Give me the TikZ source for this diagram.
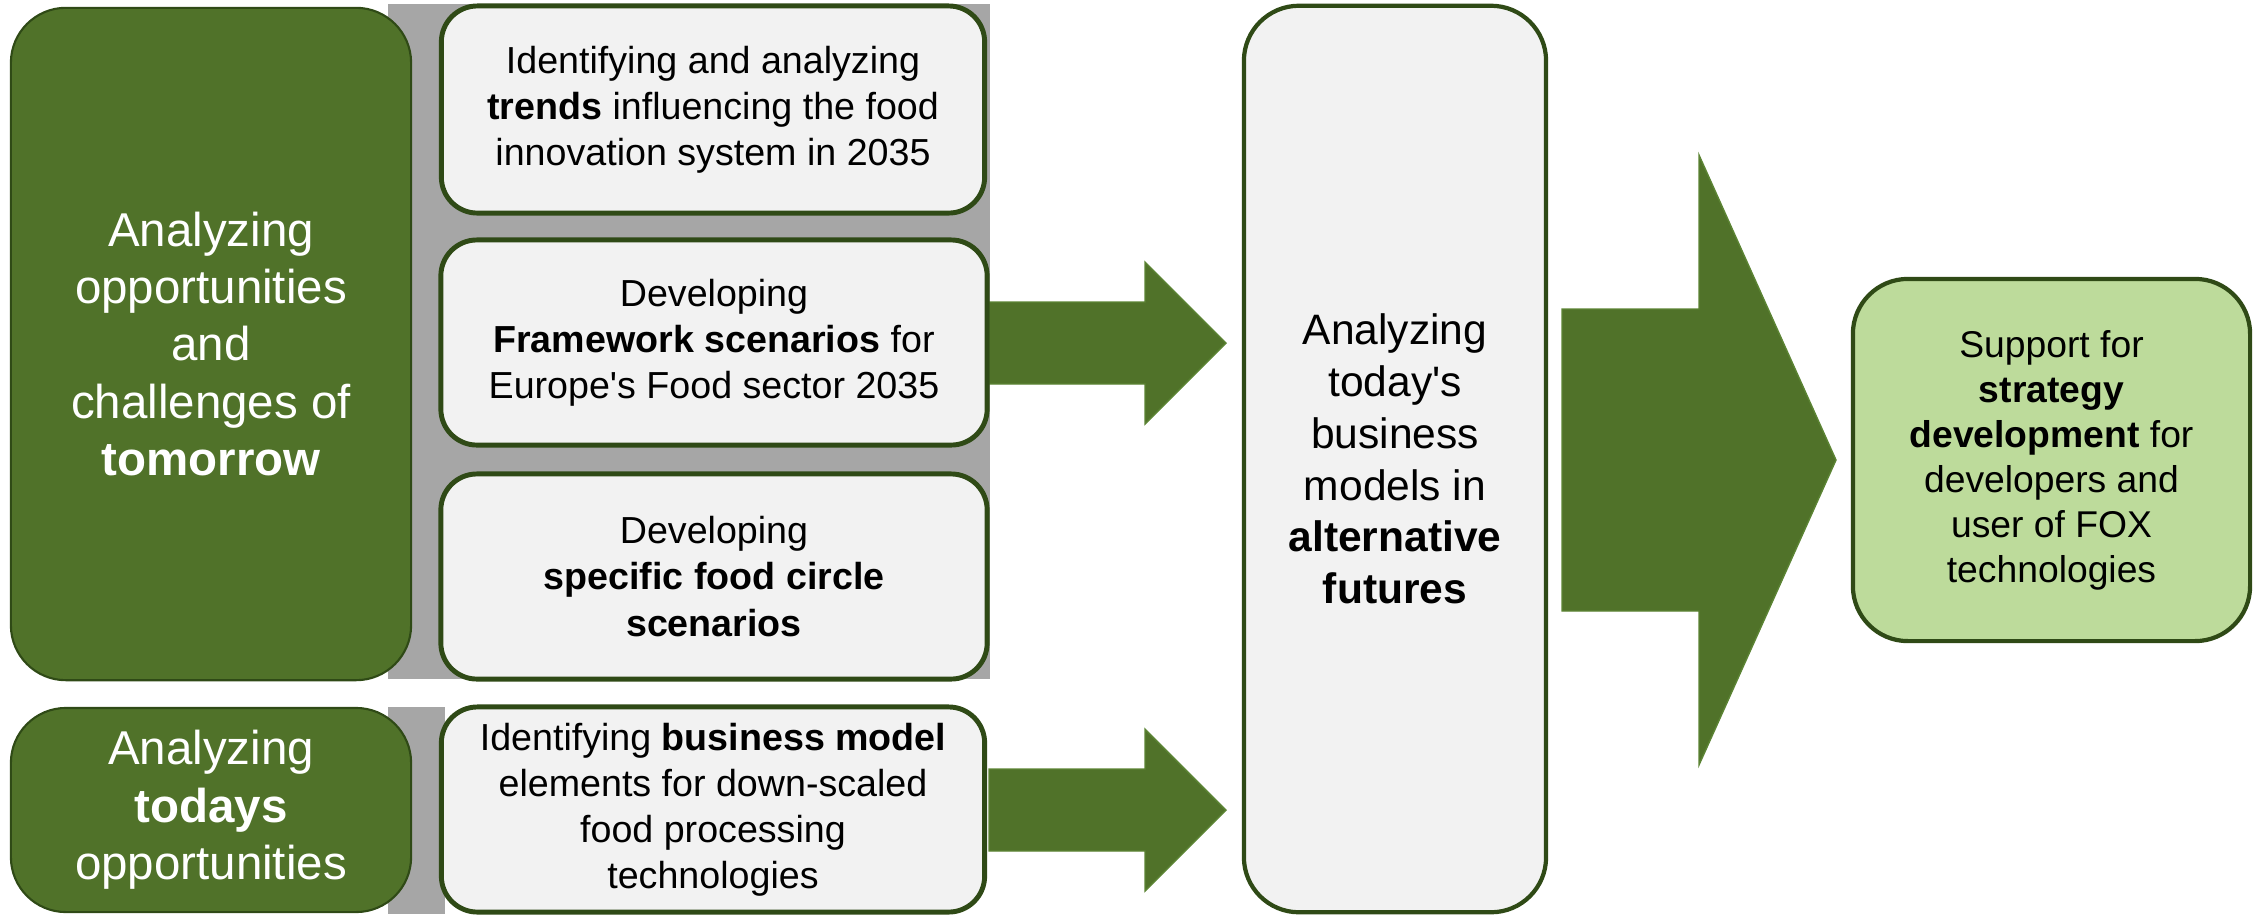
\documentclass[tikz,border=0pt]{standalone}
\usepackage{fontspec}
\setmainfont{Liberation Sans}
\definecolor{dkgreen}{RGB}{80,114,41}
\definecolor{bordergreen}{RGB}{47,74,22}
\definecolor{ltgreen}{RGB}{189,219,155}
\definecolor{bggray}{RGB}{166,166,166}
\definecolor{boxfill}{RGB}{242,242,242}
\definecolor{arrowedge}{RGB}{92,132,52}
\begin{document}
\begin{tikzpicture}[x=0.01cm,y=-0.01cm,
  greenbox/.style={draw=bordergreen, line width=0.6pt, fill=dkgreen, rounded corners=0.55cm,
    text=white, align=center, inner sep=0pt, font=\fontsize{13.5}{16.3}\selectfont},
  whitebox/.style={draw=bordergreen, line width=1.4pt, fill=boxfill, rounded corners=0.36cm,
    align=center, inner sep=0pt, font=\fontsize{10.7}{13.1}\selectfont},
  midbox/.style={draw=bordergreen, line width=1.2pt, fill=boxfill, rounded corners=0.55cm,
    align=center, inner sep=0pt, font=\fontsize{12.1}{14.7}\selectfont},
  resbox/.style={draw=bordergreen, line width=1.2pt, fill=ltgreen, rounded corners=0.55cm,
    align=center, inner sep=0pt, font=\fontsize{10.6}{12.8}\selectfont},
  blockarrow/.style={fill=dkgreen, draw=arrowedge, line width=0.4pt}
]
\useasboundingbox (0,0) rectangle (2253,914);
% gray backgrounds
\fill[bggray] (388,4) rectangle (990,679);
\fill[bggray] (388,707) rectangle (445,914);
% block arrows (drawn first, boxes overlap their tails)
\draw[blockarrow] (989,302) -- (1145,302) -- (1145,262) -- (1226,343) -- (1145,424) -- (1145,384) -- (989,384) -- cycle;
\draw[blockarrow] (989,769) -- (1145,769) -- (1145,729) -- (1226,810) -- (1145,891) -- (1145,851) -- (989,851) -- cycle;
\draw[blockarrow] (1562,309) -- (1699,309) -- (1699,155) -- (1836,460) -- (1699,765) -- (1699,611) -- (1562,611) -- cycle;
% left green boxes
\node[greenbox, minimum width=4.00cm, minimum height=6.72cm] (tom) at (211,344)
  {Analyzing\\opportunities\\and\\challenges of\\\textbf{tomorrow}};
\node[greenbox, minimum width=4.00cm, minimum height=2.04cm] (tod) at (211,810)
  {Analyzing\\\textbf{todays}\\opportunities};
% white boxes
\node[whitebox, minimum width=5.43cm, minimum height=2.07cm] (b1) at (713,109.5)
  {Identifying and analyzing\\\textbf{trends} influencing the food\\innovation system in 2035};
\node[whitebox, minimum width=5.46cm, minimum height=2.05cm] (b2) at (714,342.5)
  {Developing\\\textbf{Framework scenarios} for\\Europe\textquotesingle s Food sector 2035};
\node[whitebox, minimum width=5.46cm, minimum height=2.05cm] (b3) at (714,576.5)
  {Developing\\\textbf{specific food circle}\\\textbf{scenarios}};
\node[whitebox, minimum width=5.43cm, minimum height=2.05cm] (b4) at (713,809.5)
  {Identifying \textbf{business model}\\elements for down-scaled\\food processing\\technologies};
% middle box
\node[midbox, minimum width=3.02cm, minimum height=9.06cm] (mid) at (1395,459)
  {Analyzing\\today\textquotesingle s\\business\\models in\\\textbf{alternative}\\\textbf{futures}};
% result box
\node[resbox, minimum width=3.97cm, minimum height=3.62cm] (res) at (2051.5,460)
  {Support for\\\textbf{strategy}\\\textbf{development} for\\developers and\\user of FOX\\technologies};
\end{tikzpicture}
\end{document}
